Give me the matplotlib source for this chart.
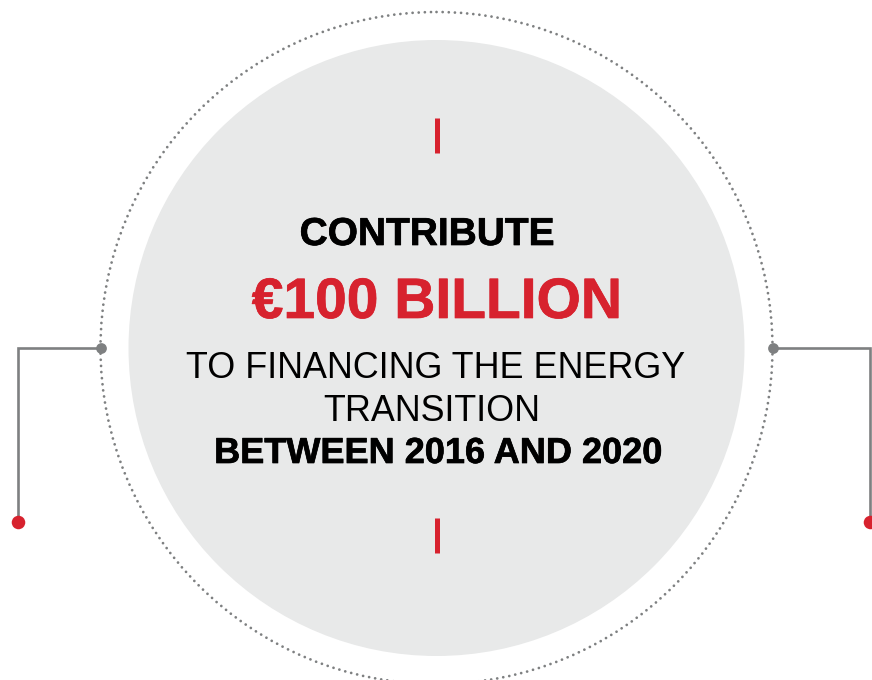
import matplotlib
matplotlib.use("Agg")
from matplotlib import pyplot as plt
from matplotlib import patheffects as pe
from matplotlib.patches import Circle

# texts of the infographic
headline = "CONTRIBUTE"
amount = "€100 BILLION"
purpose_lines = ["TO FINANCING THE ENERGY", "TRANSITION"]
period = "BETWEEN 2016 AND 2020"

RED = "#d7222e"
GREY = "#7e8081"
FILL = "#e8e9e9"

plt.rcParams['font.family'] = ['Liberation Sans', 'DejaVu Sans']

fig = plt.figure(figsize=(8.72, 6.8), dpi=100)
ax = fig.add_axes([0, 0, 1, 1])
ax.set_xlim(0, 872)
ax.set_ylim(680, 0)
ax.set_aspect('equal')
ax.axis('off')

cx, cy = 436.5, 348

# grey disc and dotted ring
ax.add_patch(Circle((cx, cy), 308, facecolor=FILL, edgecolor='none', zorder=1))
ring = Circle((cx, cy), 336, facecolor='none', edgecolor=GREY, lw=2.0,
              linestyle=(0, (0.01, 2.2)), zorder=2)
ring.set_capstyle('round')
ax.add_patch(ring)

# connectors on both sides
ax.plot([cx - 336, 18, 18], [cy, cy, 522], color=GREY, lw=1.9, zorder=3,
        solid_joinstyle='miter')
ax.plot([cx + 336, 870, 870], [cy, cy, 522], color=GREY, lw=1.9, zorder=3,
        solid_joinstyle='miter')
ax.scatter([cx - 336, cx + 336], [cy, cy], s=60, color=GREY, zorder=4, lw=0)
ax.scatter([18, 870], [522, 522], s=95, color=RED, zorder=4, lw=0)

# small red ticks above and below the text
ax.plot([437, 437], [118, 153], color=RED, lw=3.6, solid_capstyle='butt', zorder=3)
ax.plot([437, 437], [518, 553], color=RED, lw=3.6, solid_capstyle='butt', zorder=3)

# slightly heavier look for the bold lines
heavy_k = [pe.withStroke(linewidth=0.5, foreground='black')]
heavy_r = [pe.withStroke(linewidth=0.5, foreground=RED)]

ax.text(427, 245, headline, ha='center', va='baseline', fontsize=28,
        fontweight='bold', color='black', zorder=5, path_effects=heavy_k)
ax.text(437, 318, amount, ha='center', va='baseline', fontsize=41,
        fontweight='bold', color=RED, zorder=5, path_effects=heavy_r)
ax.text(436, 378, purpose_lines[0], ha='center', va='baseline', fontsize=25.8,
        color='black', zorder=5)
ax.text(432, 421, purpose_lines[1], ha='center', va='baseline', fontsize=25.8,
        color='black', zorder=5)
ax.text(438, 463, period, ha='center', va='baseline', fontsize=26,
        fontweight='bold', color='black', zorder=5, path_effects=heavy_k)

fig.savefig("out.png", dpi=100)
